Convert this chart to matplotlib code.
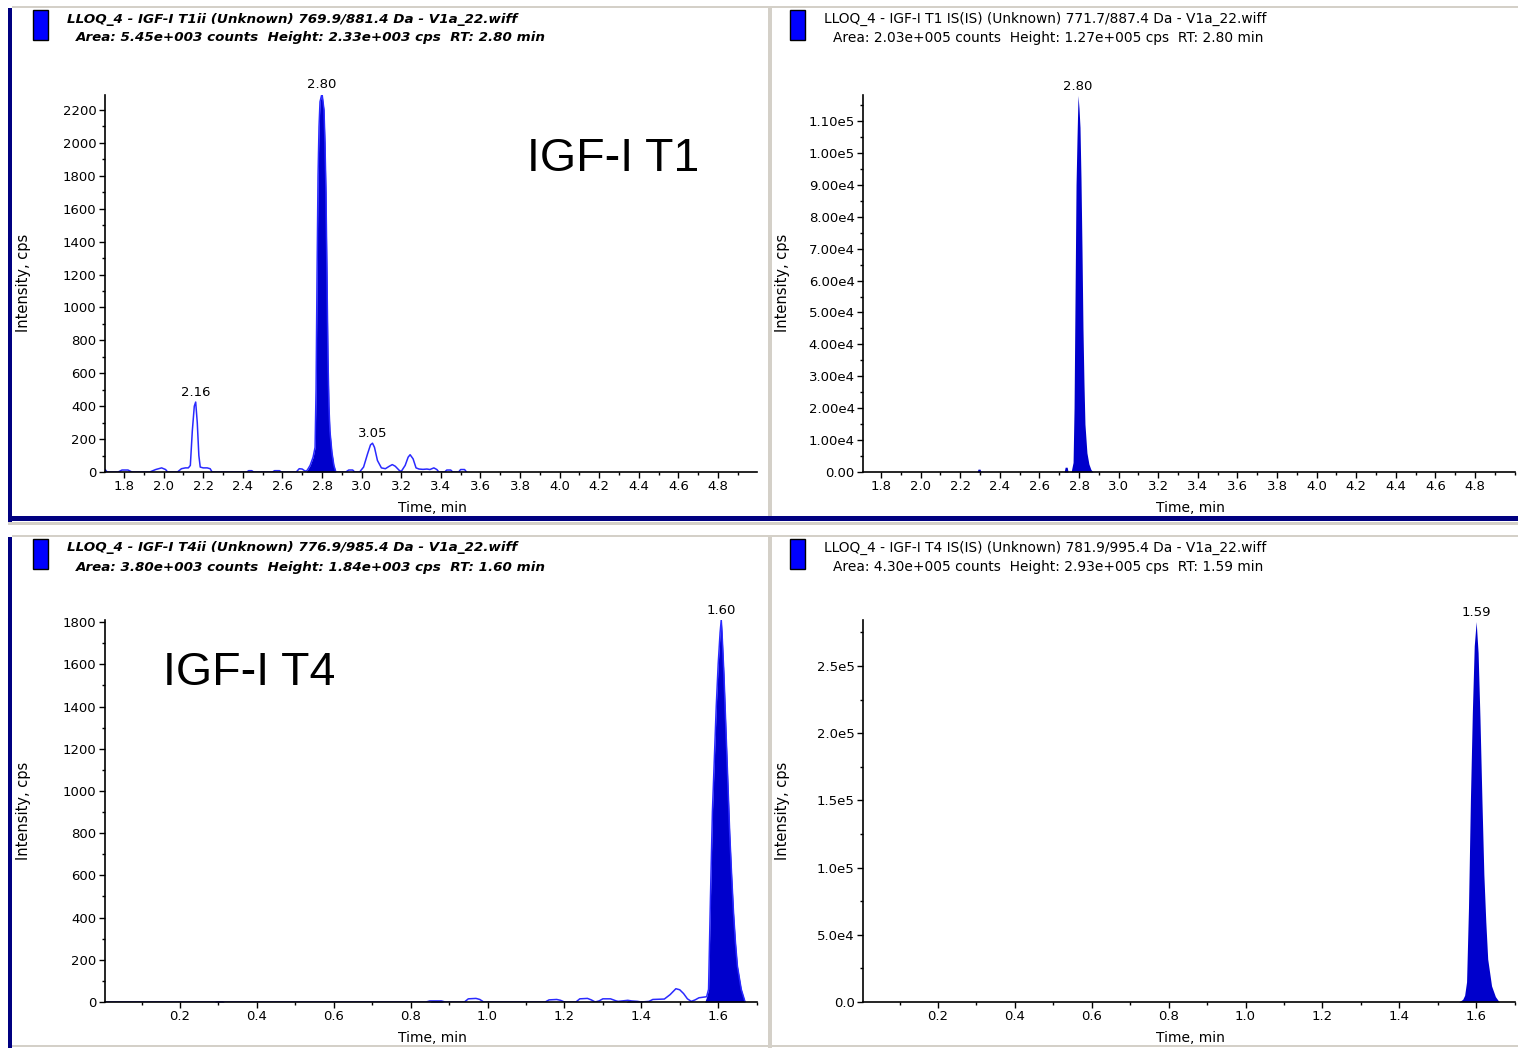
import matplotlib.pyplot as plt
from matplotlib.patches import Rectangle
from matplotlib.ticker import MultipleLocator, FixedLocator, FixedFormatter

plt.rcParams['font.family'] = ['DejaVu Sans']
plt.rcParams['font.size'] = 9.5

W, H = 1518, 1048
FILL = '#0000cc'
TRACE = '#2a2aff'
NAVY = '#000080'
GREY = '#d4d0c8'

# ---- data (time in min, intensity in cps) ----
# IGF-I T1 analyte: noisy trace + integrated peak at 2.80
t1_trace = [1.70, 1.705, 1.715, 1.77, 1.79, 1.82, 1.84, 1.93, 1.96, 1.99, 2.01, 2.02,
            2.07, 2.09, 2.11, 2.125, 2.135, 2.145, 2.155, 2.162, 2.17, 2.178, 2.185,
            2.20, 2.22, 2.235, 2.245, 2.42, 2.43, 2.445, 2.455, 2.55, 2.56, 2.585,
            2.595, 2.67, 2.685, 2.70, 2.715, 2.725, 2.74, 2.755, 2.765, 2.77, 2.775,
            2.78, 2.785, 2.79, 2.80, 2.81, 2.815, 2.82, 2.825, 2.83, 2.835, 2.84,
            2.85, 2.86, 2.87, 2.92,
            2.935, 2.955, 2.965, 2.99, 3.01, 3.03, 3.045, 3.055, 3.065, 3.08, 3.10,
            3.12, 3.14, 3.155, 3.17, 3.19, 3.20, 3.22, 3.235, 3.245, 3.26, 3.275,
            3.29, 3.31, 3.33, 3.345, 3.365, 3.38, 3.39, 3.42, 3.43, 3.45, 3.46, 3.49,
            3.50, 3.52, 3.53]
i1_trace = [15, 15, 0, 0, 12, 12, 0, 0, 15, 25, 15, 0,
            0, 20, 25, 25, 40, 250, 400, 425, 300, 100, 30,
            25, 25, 20, 0, 0, 8, 8, 0, 0, 8, 8,
            0, 0, 20, 18, 5, 10, 40, 90, 150, 500, 1200,
            1800, 2100, 2250, 2300, 2200, 2000, 1700, 1200, 700, 400, 250,
            120, 40, 0, 0,
            12, 12, 0, 0, 30, 110, 165, 175, 150, 70, 25,
            20, 35, 45, 35, 10, 3, 40, 90, 105, 80, 25,
            18, 16, 18, 15, 25, 15, 0, 0, 12, 12, 0, 0,
            15, 15, 0]
t1_peak = [2.72, 2.73, 2.74, 2.755, 2.765, 2.77, 2.775, 2.78, 2.785, 2.79, 2.80, 2.81,
           2.815, 2.82, 2.825, 2.83, 2.835, 2.84, 2.85, 2.86, 2.87]
i1_peak = [0, 20, 40, 90, 150, 500, 1200, 1800, 2100, 2250, 2300, 2200,
           2000, 1700, 1200, 700, 400, 250, 120, 40, 0]

# IGF-I T1 internal standard
t2_peak = [2.285, 2.29, 2.30, 2.305, 2.725, 2.73, 2.74, 2.745, 2.76, 2.77, 2.775,
           2.78, 2.785, 2.79, 2.795, 2.80, 2.805, 2.81, 2.815, 2.82, 2.825, 2.83,
           2.84, 2.85, 2.86, 2.87]
i2_peak = [0, 900, 900, 0, 0, 1500, 1500, 0, 0, 3000, 20000,
           55000, 90000, 105000, 118000, 114000, 108000, 92000, 70000, 45000, 28000, 15000,
           6000, 2500, 800, 0]

# IGF-I T4 analyte
t3_trace = [0.005, 0.84, 0.85, 0.88, 0.89, 0.94, 0.95, 0.97, 0.98, 0.99, 1.15, 1.16,
            1.18, 1.19, 1.20, 1.23, 1.24, 1.26, 1.27, 1.28, 1.29, 1.30, 1.32, 1.335,
            1.34, 1.35, 1.365, 1.375, 1.39, 1.40, 1.42, 1.43, 1.46, 1.475, 1.49,
            1.50, 1.51, 1.52, 1.53, 1.54, 1.55, 1.57, 1.575, 1.58, 1.585, 1.59,
            1.595, 1.60, 1.605, 1.608, 1.61, 1.615, 1.62, 1.625, 1.63, 1.635, 1.64,
            1.645, 1.65, 1.66, 1.67]
i3_trace = [0, 0, 5, 5, 0, 0, 15, 17, 12, 0, 0, 10,
            12, 8, 0, 0, 15, 17, 10, 0, 5, 15, 15, 5,
            3, 5, 8, 5, 3, 0, 3, 12, 14, 35, 63,
            58, 40, 15, 3, 10, 20, 25, 60, 500, 900, 1150,
            1400, 1600, 1750, 1810, 1750, 1550, 1300, 1050, 800, 600, 420,
            280, 170, 60, 0]
t3_peak = [0.29, 0.295, 0.31, 0.315, 0.85, 0.855, 0.88, 0.885, 1.36, 1.365, 1.40,
           1.405, 1.565, 1.57, 1.575, 1.58, 1.585, 1.59, 1.595, 1.60, 1.605, 1.608,
           1.61, 1.615, 1.62, 1.625, 1.63, 1.635, 1.64, 1.645, 1.65, 1.66, 1.67]
i3_peak = [0, 7, 7, 0, 0, 6, 6, 0, 0, 5, 5,
           0, 0, 25, 60, 500, 900, 1150, 1400, 1600, 1750, 1810,
           1750, 1550, 1300, 1050, 800, 600, 420, 280, 170, 60, 0]

# IGF-I T4 internal standard
t4_peak = [1.555, 1.565, 1.57, 1.575, 1.58, 1.585, 1.59, 1.595, 1.60, 1.605, 1.61,
           1.615, 1.62, 1.625, 1.63, 1.64, 1.65, 1.66]
i4_peak = [0, 2000, 5000, 15000, 70000, 150000, 215000, 265000, 283000, 260000, 210000,
           150000, 95000, 60000, 32000, 12000, 4000, 0]

# peak annotations: (time, intensity, label)
ann1 = [(2.80, 2300, '2.80'), (2.162, 425, '2.16'), (3.055, 175, '3.05')]
ann2 = [(2.795, 118000, '2.80')]
ann3 = [(1.608, 1810, '1.60')]
ann4 = [(1.60, 283000, '1.59')]

# axis ticks
xt_top = [1.8, 2.0, 2.2, 2.4, 2.6, 2.8, 3.0, 3.2, 3.4, 3.6, 3.8, 4.0, 4.2, 4.4, 4.6, 4.8]
xt_bot = [0.2, 0.4, 0.6, 0.8, 1.0, 1.2, 1.4, 1.6]
yt1 = [0, 200, 400, 600, 800, 1000, 1200, 1400, 1600, 1800, 2000, 2200]
yt2 = [0, 10000, 20000, 30000, 40000, 50000, 60000, 70000, 80000, 90000, 100000, 110000]
yt2_lab = ['0.00', '1.00e4', '2.00e4', '3.00e4', '4.00e4', '5.00e4', '6.00e4',
           '7.00e4', '8.00e4', '9.00e4', '1.00e5', '1.10e5']
yt3 = [0, 200, 400, 600, 800, 1000, 1200, 1400, 1600, 1800]
yt4 = [0, 50000, 100000, 150000, 200000, 250000]
yt4_lab = ['0.0', '5.0e4', '1.0e5', '1.5e5', '2.0e5', '2.5e5']

headers = [
    (33, 10, 'LLOQ_4 - IGF-I T1ii (Unknown) 769.9/881.4 Da - V1a_22.wiff',
     'Area: 5.45e+003 counts  Height: 2.33e+003 cps  RT: 2.80 min', True),
    (790, 10, 'LLOQ_4 - IGF-I T1 IS(IS) (Unknown) 771.7/887.4 Da - V1a_22.wiff',
     'Area: 2.03e+005 counts  Height: 1.27e+005 cps  RT: 2.80 min', False),
    (33, 539, 'LLOQ_4 - IGF-I T4ii (Unknown) 776.9/985.4 Da - V1a_22.wiff',
     'Area: 3.80e+003 counts  Height: 1.84e+003 cps  RT: 1.60 min', True),
    (790, 539, 'LLOQ_4 - IGF-I T4 IS(IS) (Unknown) 781.9/995.4 Da - V1a_22.wiff',
     'Area: 4.30e+005 counts  Height: 2.93e+005 cps  RT: 1.59 min', False),
]


def box(l, t, r, b):
    return [l / W, 1 - b / H, (r - l) / W, (b - t) / H]


def rect(fig, l, t, r, b, color, ec='none', lw=0):
    fig.add_artist(Rectangle((l / W, 1 - b / H), (r - l) / W, (b - t) / H,
                             facecolor=color, edgecolor=ec, linewidth=lw,
                             transform=fig.transFigure))


def style(ax, xlim, ylim, xmaj, ymaj, ymin, ylabels=None):
    for s in ['top', 'right']:
        ax.spines[s].set_visible(False)
    for s in ['left', 'bottom']:
        ax.spines[s].set_linewidth(1.2)
    ax.set_xlim(*xlim)
    ax.set_ylim(*ylim)
    ax.xaxis.set_major_locator(FixedLocator(xmaj))
    ax.xaxis.set_minor_locator(MultipleLocator(0.1))
    ax.yaxis.set_major_locator(FixedLocator(ymaj))
    ax.yaxis.set_minor_locator(MultipleLocator(ymin))
    ax.set_xticklabels(['%.1f' % v for v in xmaj])
    if ylabels is not None:
        ax.yaxis.set_major_formatter(FixedFormatter(ylabels))
    ax.tick_params(which='major', direction='out', length=4, width=1, pad=2, labelsize=9.5)
    ax.tick_params(which='minor', direction='out', length=2.5, width=1)
    ax.patch.set_alpha(0)


def annotate(ax, items):
    for t, v, s in items:
        ax.annotate(s, xy=(t, v), xytext=(0, 2), textcoords='offset points',
                    ha='center', va='bottom', fontsize=9.5, annotation_clip=False)


fig = plt.figure(figsize=(W / 100, H / 100), dpi=100)
fig.patch.set_facecolor('white')

# frame decorations
rect(fig, 12, 6, W, 8, GREY)
rect(fig, 768, 8, 772, 516, GREY)
rect(fig, 768, 537, 772, H, GREY)
rect(fig, 12, 535, W, 537, GREY)
rect(fig, 12, 1045, W, 1047, GREY)
rect(fig, 8, 522, W, 525, GREY)
rect(fig, 8, 8, 12, 522, NAVY)
rect(fig, 8, 516, W, 521, NAVY)
rect(fig, 8, 537, 12, H, NAVY)

for x0, y0, l1, l2, analyte in headers:
    rect(fig, x0, y0, x0 + 15, y0 + 30, '#0000ff', ec='black', lw=1)
    if analyte:
        kw = dict(family='DejaVu Sans', weight='bold', style='italic', fontsize=9.7)
    else:
        kw = dict(family='DejaVu Sans', fontsize=9.9)
    fig.text((x0 + 34) / W, 1 - (y0 + 9) / H, l1, va='center', ha='left', **kw)
    fig.text((x0 + 43) / W, 1 - (y0 + 28) / H, l2, va='center', ha='left', **kw)

# top-left: IGF-I T1
ax1 = fig.add_axes(box(105, 95, 757, 472))
ax1.fill_between(t1_peak, i1_peak, color=FILL, lw=0)
ax1.plot(t1_trace, i1_trace, color=TRACE, lw=1.1)
style(ax1, (1.704, 4.997), (0, 2291), xt_top, yt1, 100)
annotate(ax1, ann1)

# top-right: IGF-I T1 IS
ax2 = fig.add_axes(box(863, 95, 1515, 472))
ax2.fill_between(t2_peak, i2_peak, color=FILL, lw=0)
style(ax2, (1.709, 5.002), (0, 118150), xt_top, yt2, 5000, yt2_lab)
annotate(ax2, ann2)

# bottom-left: IGF-I T4
ax3 = fig.add_axes(box(105, 620, 757, 1002))
ax3.fill_between(t3_peak, i3_peak, color=FILL, lw=0)
ax3.plot(t3_trace, i3_trace, color=TRACE, lw=1.1)
style(ax3, (0.005, 1.701), (0, 1810), xt_bot, yt3, 100)
annotate(ax3, ann3)

# bottom-right: IGF-I T4 IS
ax4 = fig.add_axes(box(863, 620, 1515, 1002))
ax4.fill_between(t4_peak, i4_peak, color=FILL, lw=0)
style(ax4, (0.005, 1.701), (0, 284200), xt_bot, yt4, 25000, yt4_lab)
annotate(ax4, ann4)

# axis titles
for cx, cy in [(24, 283), (782, 283), (24, 811), (782, 811)]:
    fig.text(cx / W, 1 - cy / H, 'Intensity, cps', rotation=90, ha='center', va='center', fontsize=10.5)
for cx, cy in [(432, 508), (1190, 508), (432, 1038), (1190, 1038)]:
    fig.text(cx / W, 1 - cy / H, 'Time, min', ha='center', va='center', fontsize=10)

fig.text(527 / W, 1 - 171 / H, 'IGF-I T1', family='Liberation Sans', fontsize=33.5, va='baseline')
fig.text(163 / W, 1 - 685 / H, 'IGF-I T4', family='Liberation Sans', fontsize=33.5, va='baseline')

fig.savefig('out.png', dpi=100)
